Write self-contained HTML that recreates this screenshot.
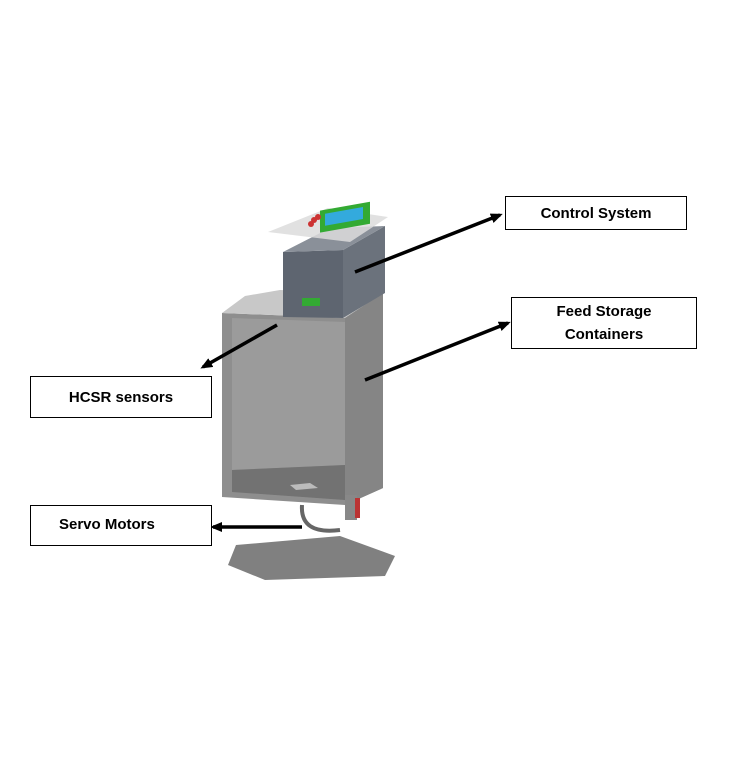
<!DOCTYPE html><html><head><style>
body{margin:0;background:#fff;width:732px;height:772px;overflow:hidden;font-family:"Liberation Sans",sans-serif}
.l{position:absolute;border:1.5px solid #000;background:#fff;font-weight:bold;font-size:15px;text-align:center;box-sizing:border-box;display:flex;align-items:center;justify-content:center;line-height:23px}
</style></head><body>
<svg width="732" height="772" style="position:absolute;left:0;top:0">
<defs><marker id="a" markerWidth="12" markerHeight="10" refX="9" refY="5" orient="auto" markerUnits="userSpaceOnUse"><path d="M0,0 L12,5 L0,10z" fill="#000"/></marker></defs>
<polygon points="236,545 340,536 395,556 385,576 265,580 228,565" fill="#606060" opacity="0.8"/>
<polygon points="222,313 345,318 383,293 383,488 345,505 222,497" fill="#8e8e8e"/>
<polygon points="232,318 345,322 345,465 232,470" fill="#9b9b9b"/>
<polygon points="232,470 345,465 375,478 345,500 232,492" fill="#727272"/>
<polygon points="290,485 310,483 318,488 296,490" fill="#bbb"/>
<polygon points="222,313 345,318 383,293 280,290 245,296" fill="#c8c8c8"/>
<polygon points="345,318 383,293 383,488 345,505" fill="#858585"/>
<polygon points="283,252 343,250 343,318 283,317" fill="#5e6570"/>
<polygon points="343,250 385,226 385,293 343,318" fill="#6b727c"/>
<polygon points="283,252 343,250 385,226 330,228" fill="#8a9099"/>
<polygon points="268,232 328,208 388,217 350,242" fill="#dcdcdc" opacity="0.85"/>
<rect x="320" y="212" width="50" height="22" fill="#3a3" transform="skewY(-10) translate(0,55)"/>
<rect x="325" y="216" width="38" height="12" fill="#3ad" transform="skewY(-10) translate(0,55)"/>
<circle cx="314" cy="220" r="3" fill="#c33"/><circle cx="318" cy="217" r="3" fill="#c33"/><circle cx="311" cy="224" r="3" fill="#c33"/>
<rect x="302" y="298" width="18" height="8" fill="#3a3"/>
<rect x="345" y="495" width="12" height="25" fill="#888"/><rect x="355" y="498" width="5" height="20" fill="#b33"/>
<path d="M302,505 Q300,535 340,530" stroke="#666" stroke-width="4" fill="none"/>
<g stroke="#000" stroke-width="3.5">
<line x1="355" y1="272" x2="500" y2="215" marker-end="url(#a)"/>
<line x1="365" y1="380" x2="508" y2="323" marker-end="url(#a)"/>
<line x1="277" y1="325" x2="203" y2="367" marker-end="url(#a)"/>
<line x1="302" y1="527" x2="213" y2="527" marker-end="url(#a)"/>
</g></svg>
<div class="l" style="left:505px;top:196px;width:182px;height:34px">Control System</div>
<div class="l" style="left:511px;top:297px;width:186px;height:52px">Feed Storage<br>Containers</div>
<div class="l" style="left:30px;top:376px;width:182px;height:42px">HCSR sensors</div>
<div class="l" style="left:30px;top:505px;width:182px;height:41px;justify-content:flex-start;padding-left:28px;align-items:flex-start;padding-top:7px">Servo Motors</div>
</body></html>
